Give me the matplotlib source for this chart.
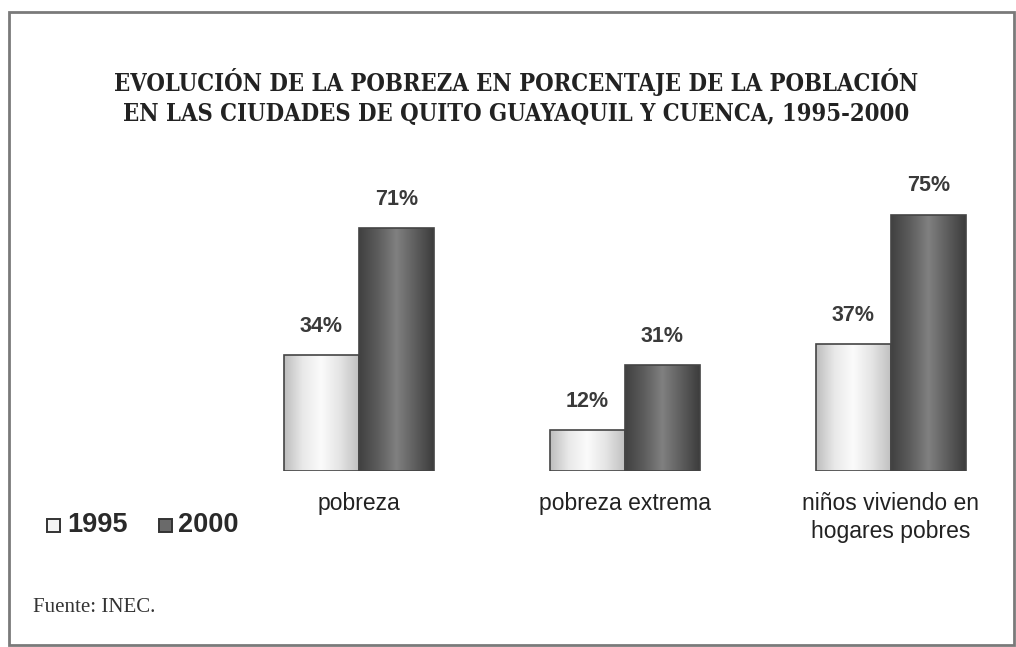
import numpy as np
import matplotlib
matplotlib.use("Agg")
import matplotlib.pyplot as plt
from matplotlib.patches import Rectangle
from matplotlib.colors import LinearSegmentedColormap

categories = ["pobreza", "pobreza extrema", "niños viviendo en\nhogares pobres"]
series_names = ["1995", "2000"]
values_1995 = [34, 12, 37]
values_2000 = [71, 31, 75]
title = ("EVOLUCIÓN DE LA POBREZA EN PORCENTAJE DE LA POBLACIÓN\n"
         "EN LAS CIUDADES DE QUITO GUAYAQUIL Y CUENCA, 1995-2000")
source = "Fuente: INEC."

W, H = 1016, 647
fig = plt.figure(figsize=(W / 100, H / 100), dpi=100)
fig.patch.set_facecolor("white")

# axes in pixel geometry
left_px, right_px, top_px, base_px = 200, 1000, 180, 471
ax = fig.add_axes([left_px / W, (H - base_px) / H,
                   (right_px - left_px) / W, (base_px - top_px) / H])
ax.set_axis_off()
unit = 266.0
x = np.arange(len(categories))
bw = 75 / unit

light_cmap = LinearSegmentedColormap.from_list(
    "light", ["#bdbdbd", "#e9e9e9", "#fbfbfb", "#e4e4e4", "#c0c0c0"])
dark_cmap = LinearSegmentedColormap.from_list(
    "dark", ["#404040", "#5c5c5c", "#808080", "#5e5e5e", "#3c3c3c"])
grad = np.linspace(0, 1, 256).reshape(1, -1)

def gradient_bars(xs, vals, cmap):
    bars = ax.bar(xs, vals, width=bw, color="none", edgecolor="#444444",
                  linewidth=1.2, zorder=3)
    for b in bars:
        x0, y0 = b.get_x(), b.get_y()
        w, h = b.get_width(), b.get_height()
        im = ax.imshow(grad, cmap=cmap, aspect="auto",
                       extent=(x0, x0 + w, y0, y0 + h), zorder=2,
                       interpolation="bilinear")
        im.set_clip_path(b)
    return bars

b1 = gradient_bars(x - bw / 2, values_1995, light_cmap)
b2 = gradient_bars(x + bw / 2, values_2000, dark_cmap)
ax.set_xlim(-159 / unit, 2 + 109 / unit)
ax.set_ylim(0, (base_px - top_px) / 3.42)

lab_font = dict(family="Liberation Sans", fontsize=15.5, fontweight="bold",
                color="#3a3a3a", ha="center", va="bottom")
for bars, vals in ((b1, values_1995), (b2, values_2000)):
    for b, v in zip(bars, vals):
        ax.annotate(f"{v}%", (b.get_x() + b.get_width() / 2, v),
                    xytext=(0, 13), textcoords="offset points",
                    clip_on=False, **lab_font)

for xi, cat in zip(x, categories):
    ax.annotate(cat, (xi, 0), xytext=(0, -15), textcoords="offset points",
                ha="center", va="top", fontsize=16.5, family="Liberation Sans",
                color="#222222", linespacing=1.3, annotation_clip=False)

# legend
leg_y = 1 - 525 / H
fig.patches.append(Rectangle((47 / W, leg_y - 6.5 / H), 13 / W, 13 / H,
                             transform=fig.transFigure, facecolor="#f4f4f4",
                             edgecolor="#333333", linewidth=1.4))
fig.text(67 / W, leg_y, series_names[0], fontsize=19.5, fontweight="bold",
         family="Liberation Sans", color="#2a2a2a", va="center", ha="left")
fig.patches.append(Rectangle((159 / W, leg_y - 6.5 / H), 13 / W, 13 / H,
                             transform=fig.transFigure, facecolor="#6a6a6a",
                             edgecolor="#333333", linewidth=1.4))
fig.text(178 / W, leg_y, series_names[1], fontsize=19.5, fontweight="bold",
         family="Liberation Sans", color="#2a2a2a", va="center", ha="left")

# title
fig.text(516 / W, 1 - 97 / H, title, ha="center", va="center",
         family="DejaVu Serif", fontstretch="condensed", fontweight="bold",
         fontsize=17, color="#222222", linespacing=1.3)

fig.text(33 / W, 1 - 607 / H, source, ha="left", va="center",
         family="Liberation Serif", fontsize=15, color="#333333")

# border
fig.patches.append(Rectangle((9 / W, 2 / H), (1014 - 9) / W, (H - 12 - 2) / H,
                             transform=fig.transFigure, fill=False,
                             edgecolor="#7a7a7a", linewidth=2))

fig.savefig("out.png", dpi=100, facecolor="white")
